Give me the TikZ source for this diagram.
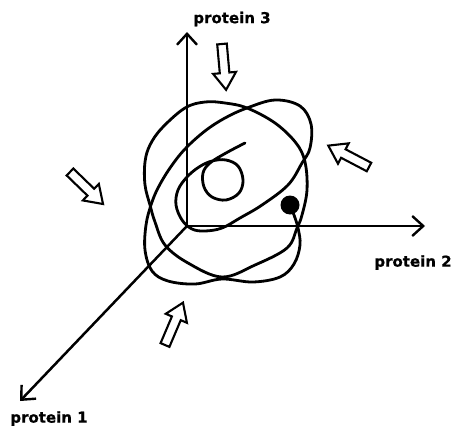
\documentclass[tikz,border=0pt]{standalone}
\usepackage{fontspec}
\newfontfamily\labfont{DejaVu Sans Bold}[FakeBold=0.8]
\usetikzlibrary{arrows.meta}
\tikzset{
  axis/.style={line width=2.5pt, -{Straight Barb[length=11pt,width=20pt,line width=2.4pt]}},
  scribble/.style={line width=2.8pt, line join=round, line cap=round},
  lab/.style={inner sep=0pt, font=\labfont\fontsize{15}{18}\selectfont},
  harrow/.pic={
    \draw[line width=2.1pt, line join=miter, fill=white]
      (0,-4.8) -- (29,-4.8) -- (29,-11.5) -- (46,0) -- (29,11.5) -- (29,4.8) -- (0,4.8) -- cycle;
  }
}
\begin{document}
\begin{tikzpicture}[x=1pt,y=-1pt]
\useasboundingbox (0,0) rectangle (454,428);
% axes
\coordinate (O) at (187,226);
\coordinate (X) at (425,226);
\coordinate (Z) at (187,32);
\coordinate (Y) at (20,401);
\draw[axis] (O) -- (X);
\draw[axis] (O) -- (Z);
\draw[axis] (O) -- (Y);
% labels
\node[lab] (l3) at (232,19) {protein 3};
\node[lab] (l2) at (413,262.5) {protein 2};
\node[lab] (l1) at (49,418.5) {protein 1};
% scribble: closed loop
\draw[scribble] plot[smooth cycle, tension=0.6] coordinates {
  (150,205) (145,185) (145,162) (150,145) (162,128) (185,108) (205,102)
  (225,103) (247,108) (275,123) (296,143) (305,162) (307,190) (302,215)
  (297,228) (287,248) (255,265) (222,277) (188,263) (165,245) (155,222)};
% scribble: open strand from the dot
\draw[scribble] plot[smooth, tension=0.6] coordinates {
  (290,205) (294,215) (298,228) (300,245) (294,264) (280,277) (253,282)
  (222,279) (195,284) (168,281) (152,271) (145,250) (146,225) (151,205)
  (158,188) (170,168) (185,149) (205,131) (225,118) (247,108) (275,100)
  (300,106) (311,124) (310,148) (302,163) (288,185) (262,205) (240,218)
  (222,228) (205,231) (192,229) (182,220) (176,205) (178,190) (187,177)
  (199,167) (212,161) (226,160) (238,166) (243,180) (239,193) (226,200)
  (212,197) (204,187) (203,173) (210,163) (226,153) (245,143)};
% dot
\node[circle, fill=black, minimum size=19pt, inner sep=0pt] (dot) at (290,205) {};
% hollow arrows
\pic[rotate=-84.9] at (222,44) {harrow};
\pic[rotate=152.3] at (369,167) {harrow};
\pic[rotate=-44.1] at (70,172) {harrow};
\pic[rotate=67] at (165,345) {harrow};
\end{tikzpicture}
\end{document}
